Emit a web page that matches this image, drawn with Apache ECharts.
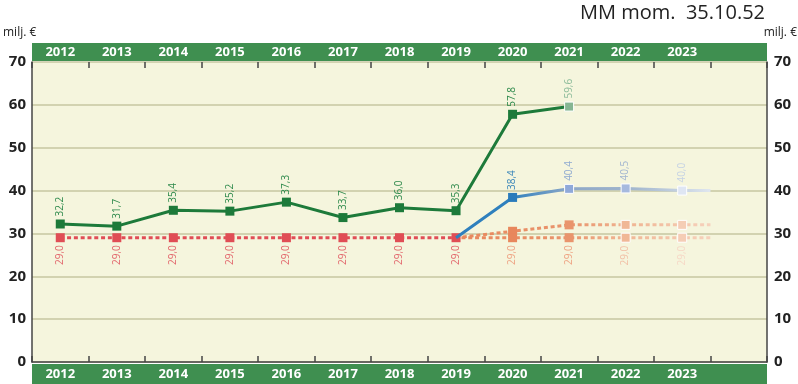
<!DOCTYPE html>
<html>
<head>
<meta charset="utf-8">
<script src="https://cdn.jsdelivr.net/npm/echarts@6/dist/echarts.min.js"></script>
<style>
html,body{margin:0;padding:0;background:#fff;}
#c{width:798px;height:384px;}
</style>
</head>
<body>
<div id="c"></div>
<script>
// ---- data ----
var years = ['2012','2013','2014','2015','2016','2017','2018','2019','2020','2021','2022','2023'];
var greenValues = [32.2,31.7,35.4,35.2,37.3,33.7,36.0,35.3,57.8,59.6,null,null];
var blueValues = [null,null,null,null,null,null,null,29.0,38.4,40.4,40.5,40.0];
var blueTail = 40.0;
var baseValues = [29.0,29.0,29.0,29.0,29.0,29.0,29.0,29.0,29.0,29.0,29.0,29.0];
var baseTail = 29.0;
var upperValues = [null,null,null,null,null,null,null,29.0,30.5,32.0,32.0,32.0];
var upperTail = 32.0;
var yTicks = [0,10,20,30,40,50,60,70];

// ---- styles ----
var greenPointColors = ['#1d7a3a','#1d7a3a','#1d7a3a','#1d7a3a','#1d7a3a','#1d7a3a','#1d7a3a','#1d7a3a','#1d7a3a','#86b693'];
var greenLabelColors = ['#2f8a4c','#2f8a4c','#2f8a4c','#2f8a4c','#2f8a4c','#2f8a4c','#2f8a4c','#2f8a4c','#2f8a4c','#8cbb9a'];
var bluePointColors = {8:'#2a7bbb',9:'#8fa9d9',10:'#a6b9de',11:'#dfe6f3'};
var blueLabelColors = {8:'#3b86b9',9:'#8faad0',10:'#a3b6d0',11:'#c6d3e4'};
var basePointColors = ['#e04d55','#e04d55','#e04d55','#e04d55','#e04d55','#e04d55','#e04d55','#e04d55','#e8875c','#e9946c','#f0b796','#f5cdb5'];
var baseLabelColors = ['#e2666c','#e2666c','#e2666c','#e2666c','#e2666c','#e2666c','#e2666c','#e2666c','#eea282','#eea282','#f2c0a6','#f6d8c6'];
var upperPointColors = {8:'#e8875c',9:'#e9946c',10:'#f0b796',11:'#f5cdb5'};

function fmt(p){ return String(p.value[1].toFixed(1)).replace('.', ','); }

function buildData(values, pointColors, labelColors, opts){
  var out = [];
  values.forEach(function(v,i){
    if (v === null || v === undefined) return;
    var d = {value:[i, v]};
    var pc = pointColors ? pointColors[i] : null;
    if (pc) {
      d.itemStyle = {color: pc};
      if (opts && opts.lightBorder && opts.lightBorder.indexOf(i) >= 0) { d.itemStyle.borderColor = '#ffffff'; d.itemStyle.borderWidth = 1; }
    } else {
      d.symbol = 'none';
    }
    if (labelColors && labelColors[i]) d.label = {show:true, color: labelColors[i]};
    else d.label = {show:false};
    out.push(d);
  });
  return out;
}
function tail(x, v){ return {value:[x, v], symbol:'none', label:{show:false}}; }

var greenData = buildData(greenValues, greenPointColors, greenLabelColors, {lightBorder:[9]});
var blueData = buildData(blueValues, bluePointColors, blueLabelColors, {lightBorder:[9,10,11]});
blueData.push(tail(years.length - 0.5, blueTail));
var baseData = buildData(baseValues, basePointColors, baseLabelColors, {lightBorder:[10,11]});
baseData.push(tail(years.length - 0.5, baseTail));
var upperData = buildData(upperValues, upperPointColors, null, {lightBorder:[10,11]});
upperData[0].symbol = 'none';
upperData.push(tail(years.length - 0.5, upperTail));

var cats = years.concat(['']);

var labelAbove = {show:true, position:'top', distance:3, rotate:90, align:'left', verticalAlign:'middle',
  fontFamily:'Open Sans', fontSize:10, formatter: fmt};
var labelBelow = {show:true, position:'bottom', distance:3, rotate:90, align:'right', verticalAlign:'middle',
  fontFamily:'Open Sans', fontSize:10, formatter: fmt};

function grad(stops){
  return new echarts.graphic.LinearGradient(0,0,1,0, stops.map(function(s){return {offset:s[0], color:s[1]};}));
}

var chart = echarts.init(document.getElementById('c'), null, {renderer:'canvas'});
chart.setOption({
  animation:false,
  grid:{left:32, right:31, top:62, bottom:22, show:true, backgroundColor:'#f5f5dd', borderWidth:0},
  graphic:[
    {type:'rect', z:-5, shape:{x:32, y:43, width:735, height:18}, style:{fill:'#3f8f50'}},
    {type:'rect', z:-5, shape:{x:32, y:364, width:735, height:20}, style:{fill:'#3f8f50'}},
    {type:'text', style:{x:765, y:13, text:'MM mom.  35.10.52', align:'right', verticalAlign:'middle',
      font:'20px "Open Sans"', fill:'#222'}},
    {type:'text', style:{x:3, y:33, text:'milj. €', align:'left', verticalAlign:'middle', font:'12px "Open Sans"', fill:'#222'}},
    {type:'text', style:{x:797, y:33, text:'milj. €', align:'right', verticalAlign:'middle', font:'12px "Open Sans"', fill:'#222'}}
  ],
  xAxis:[
    {type:'category', position:'bottom', data:cats, boundaryGap:true,
      axisLine:{show:true, onZero:false, lineStyle:{color:'#444', width:1.5}},
      axisTick:{show:true, inside:true, length:6, lineStyle:{color:'#444', width:1.5}},
      axisLabel:{color:'#fff', fontFamily:'Open Sans', fontWeight:'bold', fontSize:13, margin:6}},
    {type:'category', position:'top', data:cats, boundaryGap:true,
      axisLine:{show:false, onZero:false},
      axisTick:{show:true, inside:true, length:6, lineStyle:{color:'#444', width:1.5}},
      axisLabel:{color:'#fff', fontFamily:'Open Sans', fontWeight:'bold', fontSize:13, margin:3}},
    {type:'value', min:-0.5, max:years.length + 0.5, show:false}
  ],
  yAxis:[
    {type:'value', position:'left', min:yTicks[0], max:yTicks[yTicks.length-1], interval:10,
      axisLine:{show:true, onZero:false, lineStyle:{color:'#444', width:1.5}}, axisTick:{show:false},
      axisLabel:{color:'#222', fontFamily:'Open Sans', fontWeight:'bold', fontSize:15, margin:6},
      splitLine:{show:true, lineStyle:{color:'#c6c6a0', width:1.5}}},
    {type:'value', position:'right', min:yTicks[0], max:yTicks[yTicks.length-1], interval:10,
      axisLine:{show:true, onZero:false, lineStyle:{color:'#444', width:1.5}}, axisTick:{show:false},
      axisLabel:{color:'#222', fontFamily:'Open Sans', fontWeight:'bold', fontSize:15, margin:7},
      splitLine:{show:false}}
  ],
  series:[
    {type:'line', xAxisIndex:2, yAxisIndex:0, z:3, data:upperData, symbol:'rect', symbolSize:9,
      lineStyle:{width:3, type:[4,2.8], color:grad([[0,'#e8875c'],[0.45,'#e9946c'],[0.7,'#f0b796'],[1,'#f6d2bd']])},
      label:{show:false}},
    {type:'line', xAxisIndex:2, yAxisIndex:0, z:4, data:baseData, symbol:'rect', symbolSize:9,
      lineStyle:{width:3, type:[4,2.8], color:grad([[0,'#e04d55'],[0.607,'#e04d55'],[0.61,'#e8875c'],[0.78,'#e9946c'],[0.87,'#f0b796'],[1,'#f6d2bd']])},
      label:labelBelow},
    {type:'line', xAxisIndex:2, yAxisIndex:0, z:5, data:blueData, symbol:'rect', symbolSize:9,
      lineStyle:{width:3, color:grad([[0,'#2f80bd'],[0.22,'#2f80bd'],[0.45,'#8ea8c8'],[0.67,'#9fb4cc'],[0.89,'#c8d4e2'],[1,'#e2e8f0']])},
      label:labelAbove},
    {type:'line', xAxisIndex:2, yAxisIndex:0, z:6, data:greenData, symbol:'rect', symbolSize:9,
      lineStyle:{width:3, color:'#1d7a3a'},
      label:labelAbove}
  ]
});
</script>
</body>
</html>
